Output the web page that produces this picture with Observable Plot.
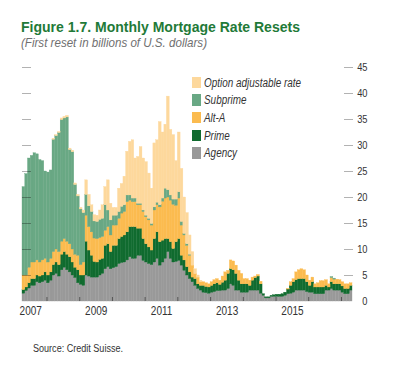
<!DOCTYPE html>
<html><head><meta charset="utf-8">
<script src="https://cdn.jsdelivr.net/npm/d3@7"></script>
<script src="https://cdn.jsdelivr.net/npm/@observablehq/plot@0.6"></script>
<style>
body{margin:0;background:#fff;}
#wrap{position:relative;width:400px;height:372px;overflow:hidden;font-family:"Liberation Sans",Arial,sans-serif;}
.txt{position:absolute;white-space:nowrap;line-height:1em;transform-origin:0 0;}
#title{left:21px;top:18.6px;font-size:15.5px;font-weight:bold;color:#1f7a38;}
#sub{left:21px;top:35.7px;font-size:13px;font-style:italic;color:#707070;}
#chart{position:absolute;left:0;top:57px;}
#legend{position:absolute;left:0;top:0;}
.sw{position:absolute;width:9px;height:11.5px;}
.lt{font-size:12.5px;font-style:italic;color:#333;}
#source{left:33px;top:341.8px;font-size:11.7px;color:#333;}
</style></head>
<body>
<div id="wrap">
  <div id="title" class="txt">Figure 1.7. Monthly Mortgage Rate Resets</div>
  <div id="sub" class="txt">(First reset in billions of U.S. dollars)</div>
  <div id="chart"></div>
  <div id="legend"></div>
  <div id="source" class="txt">Source: Credit Suisse.</div>
</div>
<script>
// Monthly series, October 2006 to October 2016 (billions of U.S. dollars)
const agency = [1.5,2.0,2.5,3.0,3.0,3.7,3.5,3.7,4.0,3.5, 4.0,5.0,5.3,4.8,6.0,6.5,6.0,5.6,5.0,4.5, 3.5,3.2,3.0,5.0,4.8,4.6,4.6,4.6,5.0,5.3, 6.2,6.6,6.2,6.4,6.6,7.2,7.4,7.5,7.9,8.5, 8.2,8.2,8.8,8.8,7.8,7.5,7.2,7.0,7.5,8.2, 6.9,7.5,8.2,9.5,8.2,7.5,7.6,7.8,6.9,5.9, 5.0,4.3,3.7,3.0,2.4,2.1,1.7,1.6,1.5,1.7, 1.8,2.0,2.0,2.1,2.1,2.4,3.3,3.0,2.1,2.1, 1.7,1.7,1.7,2.1,2.1,2.1,2.1,1.5,1.1,0.6, 0.6,0.9,0.9,0.9,0.9,0.9,1.1,1.4,1.5,1.7, 2.1,2.1,2.1,2.1,1.8,1.7,1.7,1.4,1.4,1.4, 1.4,2.1,2.1,2.4,2.1,2.1,2.1,1.7,1.4,1.4, 2.1];
const prime = [0.7,0.7,1.0,1.3,1.3,1.3,1.3,1.3,1.6,1.5, 1.6,2.0,2.2,2.2,3.0,3.0,3.0,2.9,2.5,2.0, 2.5,1.8,2.0,6.5,5.0,4.2,3.0,2.9,3.0,2.9, 4.5,4.4,3.3,4.3,4.1,4.8,5.0,5.2,5.4,5.8, 6.1,6.1,5.2,5.2,4.2,3.5,3.2,2.8,4.5,5.1, 4.5,4.2,3.8,2.5,3.2,2.6,3.8,4.2,1.9,2.0, 1.6,1.3,0.9,1.3,0.9,0.9,1.3,1.2,1.2,1.3, 1.5,1.5,1.2,1.5,1.9,2.9,2.9,3.0,3.2,1.9, 1.6,1.6,1.6,0.9,1.9,2.4,2.7,1.8,0.3,0.2, 0.2,0.2,0.3,0.4,0.4,0.5,0.6,0.9,1.5,2.0, 2.0,2.2,2.2,2.2,1.9,1.3,2.0,1.3,1.3,1.3, 1.3,0.9,0.6,1.3,1.2,1.2,1.2,1.2,1.0,1.0, 0.9];
const altA = [2.8,2.3,3.0,3.2,3.2,2.9,2.7,2.9,2.6,2.5, 2.6,2.5,2.5,2.5,2.5,2.5,2.5,2.5,2.5,2.5, 2.8,2.0,2.5,5.0,4.5,4.5,4.5,4.5,4.2,4.2, 2.9,3.3,3.2,3.9,3.9,3.9,4.5,4.5,5.8,5.1, 4.8,4.8,4.5,4.5,5.2,5.2,5.2,4.8,5.5,5.2, 6.7,7.5,7.8,8.0,8.0,8.5,7.0,7.8,5.8,4.8, 4.1,3.2,2.3,1.0,1.3,0.7,0.7,0.7,0.6,0.7, 0.8,0.8,0.8,1.2,1.6,0.6,1.7,1.7,1.6,1.9, 2.0,1.0,1.0,1.0,0.6,0.3,0.3,0.5,0,0, 0,0,0,0,0,0,0,0.1,0.7,0.6, 1.5,1.7,1.9,1.7,1.3,1.0,0.9,0.6,0.8,1.2, 1.2,1.1,0.6,0.8,0.9,0.9,0.8,0.8,0.9,0.9, 0.5];
const subprime = [17.0,19.5,21.0,20.5,21.0,20.4,19.7,19.1,16.8,17.3, 17.0,21.6,21.8,22.9,23.4,23.2,23.9,18.1,18.7,13.4, 11.4,10.7,9.5,4.0,4.0,3.9,3.3,3.3,3.5,3.5, 4.9,3.2,2.9,1.9,1.9,1.3,1.3,1.3,1.3,1.0, 0.7,0.7,0.3,0.3,0.3,0.3,0.3,0.3,0.6,0.5, 0.4,0.6,1.9,1.4,1.0,1.0,1.2,1.2,0.7,0.3, 0.3,0.2,0,0,0,0,0,0,0,0, 0,0,0,0,0,0,0,0,0,0, 0,0,0,0,0,0,0,0,0,0, 0,0,0,0,0,0,0,0,0,0, 0,0,0,0,0,0,0,0,0,0, 0,0,0,0.2,0.2,0,0,0,0,0, 0];
const optionARM = [0,0,0,0,0,0,0,0,0,0, 0,0.2,0.2,0.2,0.3,0.3,0.3,0.3,0.3,0.3, 0.3,0.3,0.5,2.8,2.2,1.3,1.2,1.2,1.8,2.6, 3.5,5.8,3.2,1.5,1.5,4.5,4.4,5.5,8.4,10.3, 11.2,7.7,9.0,10.9,10.0,10.3,8.7,6.8,12.3,12.0, 16.0,12.7,12.3,18.0,12.6,12.4,7.4,11.5,10.2,7.0, 6.0,3.7,2.6,0.9,0.4,0.3,0,0,0,0, 0,0,0,0,0,0,0,0,0,0, 0,0,0,0,0,0,0,0,0,0, 0,0,0,0,0,0,0,0,0,0, 0,0,0,0,0,0,0,0,0,0, 0,0,0,0,0,0,0,0,0,0, 0];

const seriesNames = ["Agency", "Prime", "Alt-A", "Subprime", "Option adjustable rate"];
const seriesColors = ["#999999", "#106b2f", "#fbbb4f", "#69a884", "#fdd89c"];
const seriesValues = [agency, prime, altA, subprime, optionARM];
const legendOrder = ["Option adjustable rate", "Subprime", "Alt-A", "Prime", "Agency"];
const yTicks = [0, 5, 10, 15, 20, 25, 30, 35, 40, 45];
const yGridTicks = [5, 10, 15, 20, 25, 30, 35, 40, 45];
const xTickYears = [2007, 2009, 2011, 2013, 2015];

const start = new Date(Date.UTC(2006, 9, 1));
const months = agency.map((_, i) => d3.utcMonth.offset(start, i));
const end = d3.utcMonth.offset(start, months.length);
const data = seriesNames.flatMap((s, k) =>
  seriesValues[k].map((v, i) => ({date: months[i], series: s, value: v})));
const xTicks = xTickYears.map(y => new Date(Date.UTC(y, 0, 1)));
const minorTicks = d3.range(2007, 2017).map(y => new Date(Date.UTC(y, 6, 1)));

const chart = Plot.plot({
  width: 400,
  height: 263,
  marginLeft: 22,
  marginRight: 48,
  marginTop: 10,
  marginBottom: 19,
  style: {fontFamily: '"Liberation Sans",Arial,sans-serif', fontSize: "12px", color: "#333", background: "transparent"},
  x: {type: "utc", domain: [start, end]},
  y: {domain: [0, 45]},
  color: {domain: seriesNames, range: seriesColors},
  marks: [
    Plot.rectY(data, {x: "date", y: "value", fill: "series", interval: d3.utcMonth, order: seriesNames, inset: 0, stroke: "series", strokeWidth: 0.35}),
    Plot.ruleX(minorTicks, {stroke: "#555", strokeWidth: 1, insetTop: 230}),
    Plot.ruleY(yGridTicks, {stroke: "#000", strokeOpacity: 0.3, insetRight: 321}),
    Plot.ruleY(yGridTicks, {stroke: "#000", strokeOpacity: 0.3, insetLeft: 322, insetRight: -1}),
    Plot.axisY(yTicks, {anchor: "right", tickSize: 0, tickPadding: 15, textAnchor: "end", label: null, fontSize: 11.6}),
    Plot.axisX(xTicks, {tickSize: 0, tickPadding: 5, tickFormat: d3.utcFormat("%Y"), label: null, fontSize: 12.5})
  ]
});
document.getElementById("chart").appendChild(chart);

// narrow the axis labels (reference uses a condensed face)
chart.querySelectorAll("g[aria-label='y-axis tick label'] text, g[aria-label='x-axis tick label'] text").forEach(t => {
  const w = t.getComputedTextLength();
  t.setAttribute("textLength", (w * 0.8).toFixed(2));
  t.setAttribute("lengthAdjust", "spacingAndGlyphs");
});

const legend = document.getElementById("legend");
const legendTexts = [];
legendOrder.forEach((name, k) => {
  const color = seriesColors[seriesNames.indexOf(name)];
  const top = 76.7 + k * 17.6;
  const sw = document.createElement("div");
  sw.className = "sw";
  sw.style.left = "191.5px";
  sw.style.top = top + "px";
  sw.style.background = color;
  legend.appendChild(sw);
  const t = document.createElement("div");
  t.className = "txt lt";
  t.style.left = "203.5px";
  t.style.top = top + "px";
  t.textContent = name;
  legend.appendChild(t);
  legendTexts.push(t);
});

function fitWidth(el, target) {
  const w = el.getBoundingClientRect().width;
  el.style.transform = `scaleX(${target / w})`;
}
fitWidth(document.getElementById("title"), 279);
fitWidth(document.getElementById("sub"), 186);
fitWidth(document.getElementById("source"), 90);
const lw = legendTexts[0].getBoundingClientRect().width;
legendTexts.forEach(t => { t.style.transform = `scaleX(${97 / lw})`; });
</script>
</body></html>
